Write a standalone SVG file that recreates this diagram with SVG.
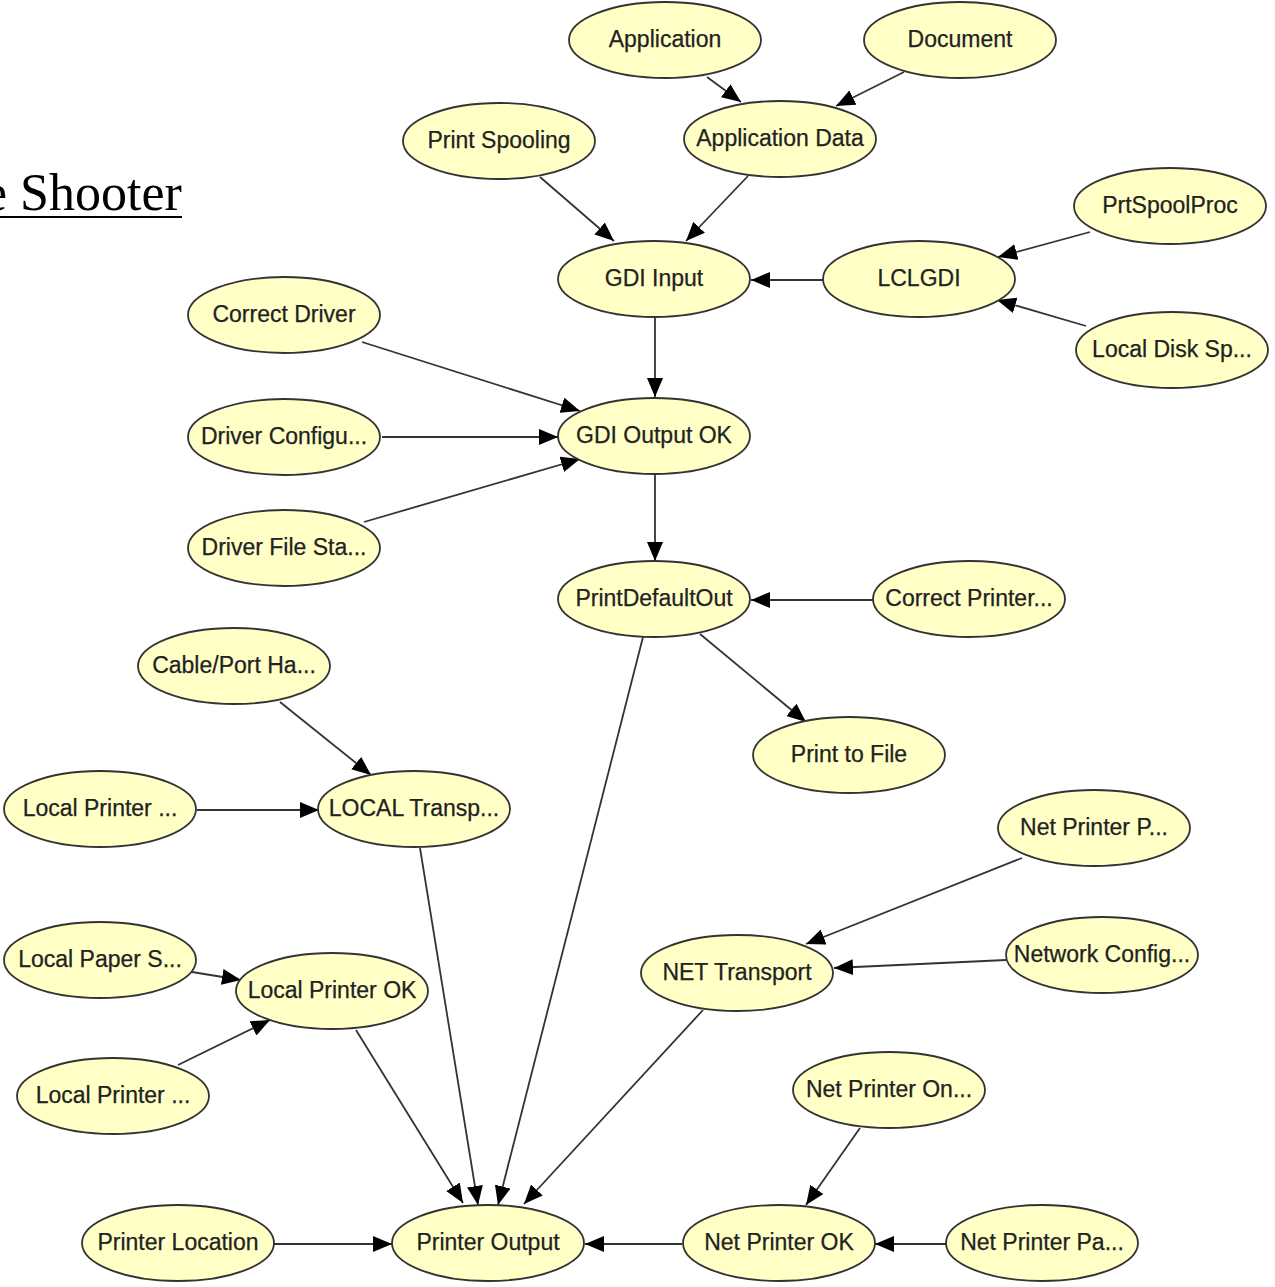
<svg xmlns="http://www.w3.org/2000/svg" width="1275" height="1287" viewBox="0 0 1275 1287">
<style>
.n ellipse{fill:#FFFFC6;stroke:#333;stroke-width:1.8}
.n text{font-family:"Liberation Sans",Arial,sans-serif;font-size:23px;fill:#222;stroke:#222;stroke-width:0.25;text-anchor:middle}
.e path{fill:none;stroke:#333;stroke-width:1.8;marker-end:url(#ah)}
</style>
<defs>
<marker id="ah" markerUnits="userSpaceOnUse" markerWidth="20" markerHeight="16" refX="19" refY="8" orient="auto">
<path d="M0,0 L19,8 L0,16 z" fill="#000"/>
</marker>
</defs>
<rect width="1275" height="1287" fill="#fff"/>
<g id="title">
<text x="-16" y="210" font-family="'Liberation Serif','Times New Roman',serif" font-size="52" fill="#000">e Shooter</text>
<line x1="0" y1="217" x2="182" y2="217" stroke="#000" stroke-width="2"/>
</g>
<g id="edges" class="e">
<path d="M707,77 L741,102"/>
<path d="M904,72 L836,106"/>
<path d="M540,177 L614,241"/>
<path d="M748,176 L686,241"/>
<path d="M1090,232 L998,257"/>
<path d="M1086,326 L997,300"/>
<path d="M823,280 L751,280"/>
<path d="M655,318 L655,397"/>
<path d="M362,342 L580,411"/>
<path d="M382,437 L558,437"/>
<path d="M364,522 L580,459"/>
<path d="M655,475 L655,561"/>
<path d="M873,600 L751,600"/>
<path d="M700,634 L806,722"/>
<path d="M643,637 L498,1205"/>
<path d="M280,702 L371,775"/>
<path d="M197,810 L319,810"/>
<path d="M420,848 L478,1205"/>
<path d="M1022,858 L806,944"/>
<path d="M1006,960 L834,968"/>
<path d="M192,972 L241,980"/>
<path d="M178,1065 L270,1020"/>
<path d="M356,1030 L463,1203"/>
<path d="M703,1010 L524,1204"/>
<path d="M860,1128 L806,1205"/>
<path d="M274,1244 L392,1244"/>
<path d="M682,1244 L585,1244"/>
<path d="M946,1244 L875,1244"/>
</g>
<g id="n-application" class="n"><ellipse cx="665" cy="40" rx="96" ry="38"/><text x="665" y="47">Application</text></g>
<g id="n-document" class="n"><ellipse cx="960" cy="40" rx="96" ry="38"/><text x="960" y="47">Document</text></g>
<g id="n-print-spooling" class="n"><ellipse cx="499" cy="141" rx="96" ry="38"/><text x="499" y="148">Print Spooling</text></g>
<g id="n-application-data" class="n"><ellipse cx="780" cy="139" rx="96" ry="38"/><text x="780" y="146">Application Data</text></g>
<g id="n-prtspoolproc" class="n"><ellipse cx="1170" cy="206" rx="96" ry="38"/><text x="1170" y="213">PrtSpoolProc</text></g>
<g id="n-gdi-input" class="n"><ellipse cx="654" cy="279" rx="96" ry="38"/><text x="654" y="286">GDI Input</text></g>
<g id="n-lclgdi" class="n"><ellipse cx="919" cy="279" rx="96" ry="38"/><text x="919" y="286">LCLGDI</text></g>
<g id="n-local-disk" class="n"><ellipse cx="1172" cy="350" rx="96" ry="38"/><text x="1172" y="357">Local Disk Sp...</text></g>
<g id="n-correct-driver" class="n"><ellipse cx="284" cy="315" rx="96" ry="38"/><text x="284" y="322">Correct Driver</text></g>
<g id="n-gdi-output" class="n"><ellipse cx="654" cy="436" rx="96" ry="38"/><text x="654" y="443">GDI Output OK</text></g>
<g id="n-driver-config" class="n"><ellipse cx="284" cy="437" rx="96" ry="38"/><text x="284" y="444">Driver Configu...</text></g>
<g id="n-driver-file" class="n"><ellipse cx="284" cy="548" rx="96" ry="38"/><text x="284" y="555">Driver File Sta...</text></g>
<g id="n-printdefaultout" class="n"><ellipse cx="654" cy="599" rx="96" ry="38"/><text x="654" y="606">PrintDefaultOut</text></g>
<g id="n-correct-printer" class="n"><ellipse cx="969" cy="599" rx="96" ry="38"/><text x="969" y="606">Correct Printer...</text></g>
<g id="n-cable-port" class="n"><ellipse cx="234" cy="666" rx="96" ry="38"/><text x="234" y="673">Cable/Port Ha...</text></g>
<g id="n-print-to-file" class="n"><ellipse cx="849" cy="755" rx="96" ry="38"/><text x="849" y="762">Print to File</text></g>
<g id="n-local-printer-1" class="n"><ellipse cx="100" cy="809" rx="96" ry="38"/><text x="100" y="816">Local Printer ...</text></g>
<g id="n-local-transp" class="n"><ellipse cx="414" cy="809" rx="96" ry="38"/><text x="414" y="816">LOCAL Transp...</text></g>
<g id="n-net-printer-p" class="n"><ellipse cx="1094" cy="828" rx="96" ry="38"/><text x="1094" y="835">Net Printer P...</text></g>
<g id="n-local-paper" class="n"><ellipse cx="100" cy="960" rx="96" ry="38"/><text x="100" y="967">Local Paper S...</text></g>
<g id="n-local-printer-ok" class="n"><ellipse cx="332" cy="991" rx="96" ry="38"/><text x="332" y="998">Local Printer OK</text></g>
<g id="n-net-transport" class="n"><ellipse cx="737" cy="973" rx="96" ry="38"/><text x="737" y="980">NET Transport</text></g>
<g id="n-network-config" class="n"><ellipse cx="1102" cy="955" rx="96" ry="38"/><text x="1102" y="962">Network Config...</text></g>
<g id="n-local-printer-2" class="n"><ellipse cx="113" cy="1096" rx="96" ry="38"/><text x="113" y="1103">Local Printer ...</text></g>
<g id="n-net-printer-on" class="n"><ellipse cx="889" cy="1090" rx="96" ry="38"/><text x="889" y="1097">Net Printer On...</text></g>
<g id="n-printer-location" class="n"><ellipse cx="178" cy="1243" rx="96" ry="38"/><text x="178" y="1250">Printer Location</text></g>
<g id="n-printer-output" class="n"><ellipse cx="488" cy="1243" rx="96" ry="38"/><text x="488" y="1250">Printer Output</text></g>
<g id="n-net-printer-ok" class="n"><ellipse cx="779" cy="1243" rx="96" ry="38"/><text x="779" y="1250">Net Printer OK</text></g>
<g id="n-net-printer-pa" class="n"><ellipse cx="1042" cy="1243" rx="96" ry="38"/><text x="1042" y="1250">Net Printer Pa...</text></g>
</svg>
